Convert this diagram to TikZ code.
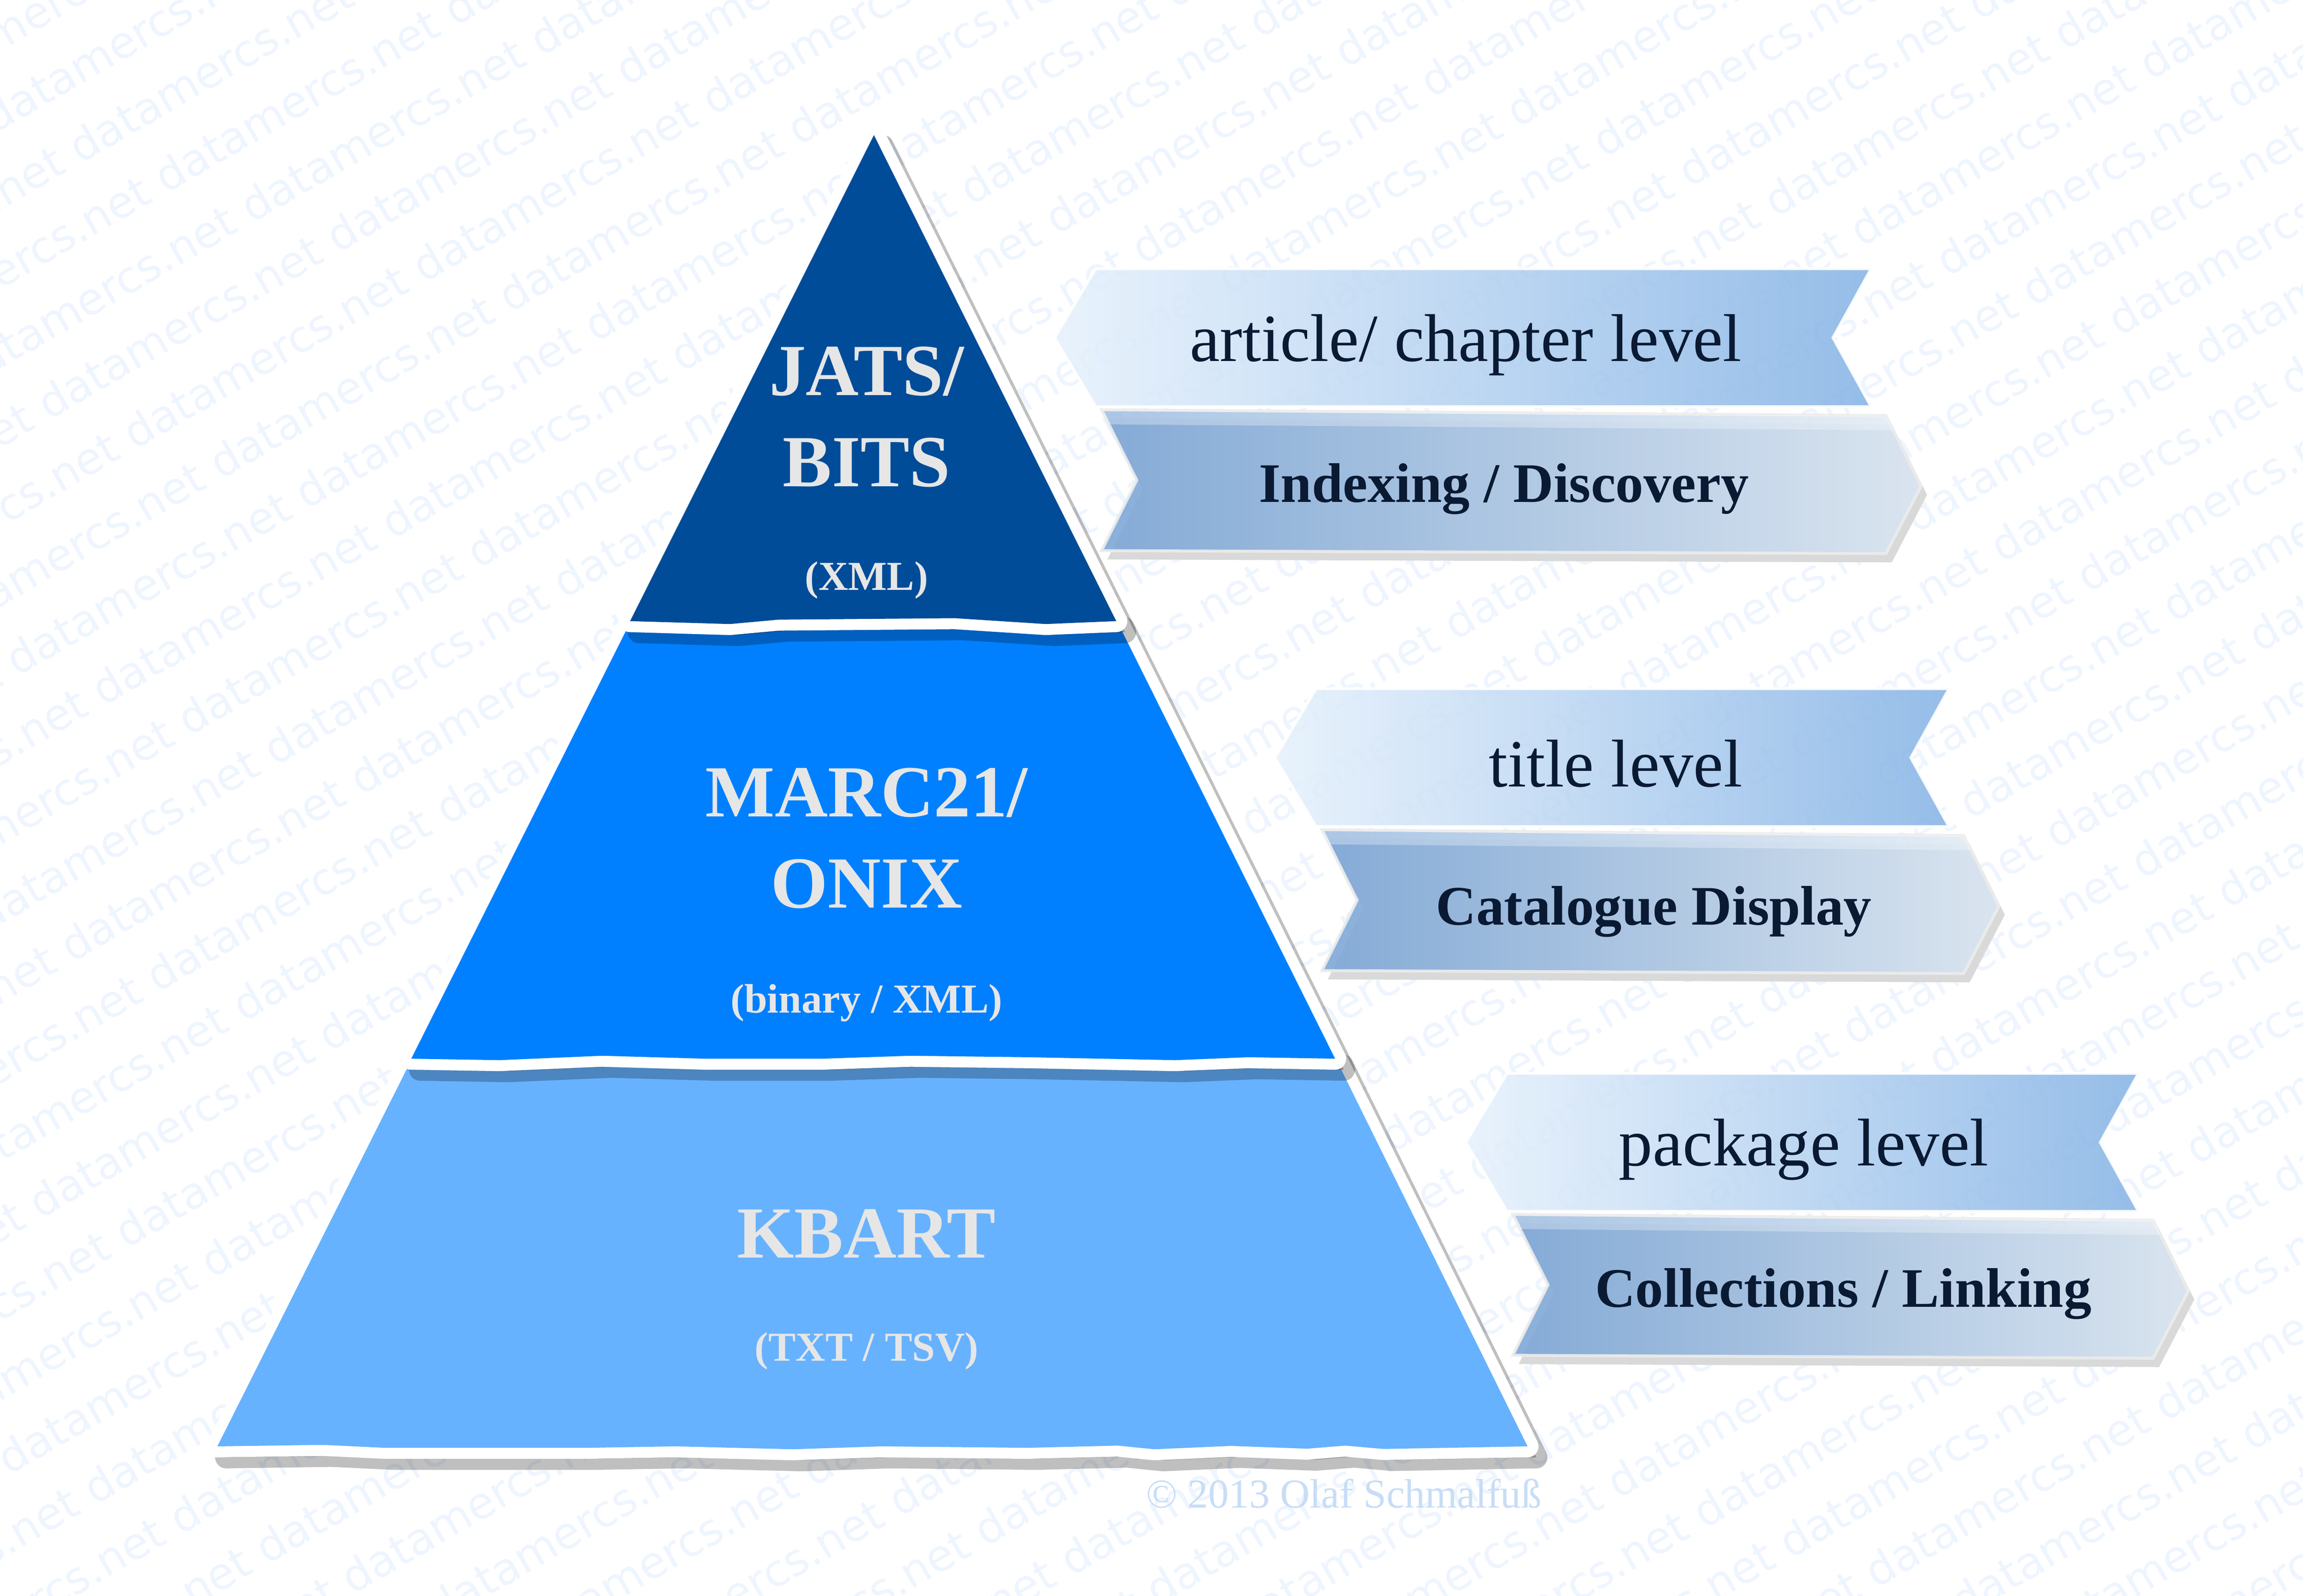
\documentclass[tikz,border=0pt]{standalone}
\usepackage{fontspec}
\setmainfont{Liberation Serif}
\newfontfamily\wmfont{DejaVu Sans}
\usepackage{tikz}

\definecolor{jatsblue}{HTML}{004C99}
\definecolor{marcblue}{HTML}{0080FF}
\definecolor{kbartblue}{HTML}{66B2FF}
\definecolor{tiertext}{HTML}{E6E6E6}
\definecolor{bandtext}{HTML}{0A1A33}
\definecolor{bandlight}{HTML}{E6F1FC}
\definecolor{banddark}{HTML}{8AB6E6}
\definecolor{lowdark}{HTML}{7CA6D6}
\definecolor{lowlight}{HTML}{DAE6F2}
\definecolor{wmblue}{HTML}{EEF5FE}
\definecolor{copyblue}{HTML}{C8DDF6}

% outlines of the three tiers
\newcommand{\jatsshape}{(595,92) -- (429,423) -- (497,425) -- (530,422) -- (650,421) -- (712,425) -- (760,423) -- cycle}
\newcommand{\marcshape}{(431,420) -- (280,721) -- (340,722) -- (410,719) -- (480,721) -- (560,721) -- (620,719) -- (700,720) -- (800,722) -- (850,720) -- (909,721) -- (759,420) -- cycle}
\newcommand{\kbartshape}{(282,718) -- (148,985) -- (220,984) -- (262,986) -- (400,986) -- (460,985) -- (540,987) -- (600,985) -- (700,986) -- (761,984.5) -- (786,987) -- (838,984.7) -- (890,986.6) -- (916,984.5) -- (942,986.8) -- (1040,985) -- (908,718) -- cycle}

% folded ribbon: left x, top y, width
\newcommand{\banner}[3]{%
	\fill[bandshadow] ({#1+4},{#2+96}) -- ({#1+#3+10},{#2+100}) -- ({#1+#3+34},{#2+148}) -- ({#1+#3+10},{#2+194}) -- ({#1+4},{#2+192}) -- ({#1+28},{#2+144}) -- cycle;
	\path[lowband] ({#1+4},{#2+96}) -- ({#1+#3+10},{#2+100}) -- ({#1+#3+34},{#2+148}) -- ({#1+#3+10},{#2+194}) -- ({#1+4},{#2+192}) -- ({#1+28},{#2+144}) -- cycle;
	\fill[foldlight] ({#1+4},{#2+96}) -- ({#1+#3+10},{#2+100}) -- ({#1+#3+15},{#2+110}) -- ({#1+9},{#2+106}) -- cycle;
	\path[upband] (#1,#2) -- ({#1+#3},#2) -- ({#1+#3-26},{#2+47}) -- ({#1+#3},{#2+94}) -- (#1,{#2+94}) -- ({#1-28},{#2+47}) -- cycle;
}

\newcommand{\wmfive}{datamercs.net datamercs.net datamercs.net datamercs.net datamercs.net }
\newcommand{\wmrow}{\wmfive\wmfive\wmfive\wmfive}

\begin{document}
\begin{tikzpicture}[x=1pt,y=-1pt,
	tiershadow/.style={fill=black,draw=black,opacity=0.25,line width=15pt,line join=round,shift={(6,7.5)}},
	tierrim/.style={fill=white,draw=white,line width=15pt,line join=round},
	tierlabel/.style={text=tiertext,align=center,font=\fontsize{50}{62}\selectfont\bfseries},
	tiernote/.style={text=tiertext,font=\fontsize{28}{34}\selectfont\bfseries},
	upband/.style={left color=bandlight,right color=banddark,draw=white,line width=2pt,opacity=0.9},
	lowband/.style={left color=lowdark,right color=lowlight,draw=white!85!gray,line width=2pt,opacity=0.9},
	bandshadow/.style={fill=black!15,shift={(4,6)}},
	foldlight/.style={fill=white,opacity=0.3},
	uplabel/.style={text=bandtext,font=\fontsize{46}{50}\selectfont},
	lowlabel/.style={text=bandtext,font=\fontsize{38}{44}\selectfont\bfseries},
	watermark/.style={text=wmblue,inner sep=0pt,rotate=30,font=\wmfont\fontsize{30}{30}\selectfont},
	copyright/.style={text=copyblue,font=\fontsize{28}{30}\selectfont}]
	\useasboundingbox (0,0) rectangle (1568,1086.7);

	% watermark
	\begin{scope}
		\clip (0,0) rectangle (1568,1086.7);
		\foreach \k in {-19,...,19}
			\node[watermark] (wm\k) at ({784+58.5*\k},{543+20.3*\k}) {\wmrow};
	\end{scope}

	% pyramid, bottom tier first
	\fill[tiershadow] \kbartshape;
	\fill[tierrim] \kbartshape;
	\fill[kbartblue] \kbartshape;
	\fill[tiershadow] \marcshape;
	\fill[tierrim] \marcshape;
	\fill[marcblue] \marcshape;
	\fill[tiershadow] \jatsshape;
	\fill[tierrim] \jatsshape;
	\fill[jatsblue] \jatsshape;

	\node[tierlabel] (jats) at (590,284) {JATS/\\BITS};
	\node[tiernote] (jatsxml) at (590,395) {(XML)};
	\node[tierlabel] (marc) at (590,571) {MARC21/\\ONIX};
	\node[tiernote] (marcfmt) at (590,683) {(binary / XML)};
	\node[tierlabel] (kbart) at (590,840) {KBART};
	\node[tiernote] (kbartfmt) at (590,920) {(TXT / TSV)};

	% ribbons
	\banner{746}{183}{528}
	\banner{896}{469}{431}
	\banner{1026}{731}{430}

	\node[uplabel] (article) at (998,235) {article/ chapter level};
	\node[lowlabel] (indexing) at (1024,333) {Indexing / Discovery};
	\node[uplabel] (title) at (1100,520) {title level};
	\node[lowlabel] (catalogue) at (1126,621) {Catalogue Display};
	\node[uplabel] (package) at (1228,783) {package level};
	\node[lowlabel] (collections) at (1255,881) {Collections / Linking};

	\node[copyright] (copy) at (915,1017) {© 2013 Olaf Schmalfuß};
\end{tikzpicture}
\end{document}
